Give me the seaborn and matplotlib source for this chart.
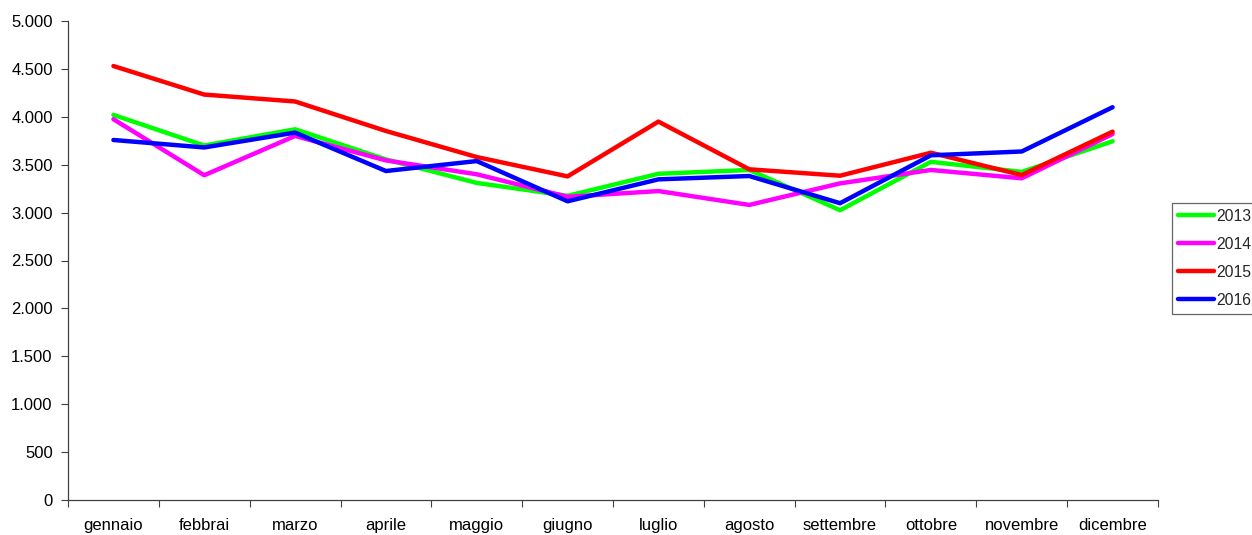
import matplotlib
matplotlib.use("Agg")
import matplotlib.pyplot as plt
import seaborn as sns
import pandas as pd
from matplotlib.ticker import FuncFormatter, FixedLocator

months = ["gennaio", "febbrai", "marzo", "aprile", "maggio", "giugno",
          "luglio", "agosto", "settembre", "ottobre", "novembre", "dicembre"]
v2013 = [4020, 3700, 3870, 3555, 3310, 3175, 3405, 3445, 3025, 3530, 3425, 3745]
v2014 = [3975, 3390, 3800, 3545, 3400, 3165, 3225, 3080, 3305, 3445, 3358, 3820]
v2015 = [4530, 4232, 4160, 3852, 3580, 3378, 3950, 3452, 3385, 3625, 3392, 3845]
v2016 = [3758, 3680, 3835, 3434, 3538, 3118, 3347, 3382, 3098, 3598, 3638, 4100]
years = ["2013", "2014", "2015", "2016"]
colors = ["#00FF00", "#FF00FF", "#FF0000", "#0000FF"]

rows = []
for y, vals in zip(years, [v2013, v2014, v2015, v2016]):
    for i, v in enumerate(vals):
        rows.append({"pos": i, "mese": months[i], "anno": y, "valore": v})
df = pd.DataFrame(rows)

sns.set_theme(style="white")
plt.rcParams["font.family"] = ["Liberation Sans", "DejaVu Sans"]

fig = plt.figure(figsize=(12.52, 5.35), dpi=100)
ax = fig.add_axes([68 / 1252, 1 - 500 / 535, (1158 - 68) / 1252, (500 - 21) / 535])

sns.lineplot(data=df, x="pos", y="valore", hue="anno", palette=colors,
             linewidth=3.2, ax=ax, legend=True)

ax.set_xlim(-0.5, 11.5)
ax.set_ylim(0, 5000)
ax.set_xlabel("")
ax.set_ylabel("")

ax.yaxis.set_major_locator(FixedLocator(list(range(0, 5001, 500))))
ax.yaxis.set_major_formatter(FuncFormatter(lambda v, p: f"{int(v):,}".replace(",", ".")))

ax.xaxis.set_major_locator(FixedLocator(list(range(12))))
ax.set_xticklabels(months)
ax.xaxis.set_minor_locator(FixedLocator([i - 0.5 for i in range(13)]))
ax.tick_params(axis="x", which="major", length=0, pad=13, labelsize=12, colors="black")
ax.tick_params(axis="x", which="minor", length=5, width=0.8, color="#404040", direction="out", bottom=True)
ax.tick_params(axis="y", which="major", length=5, width=0.8, color="#404040", direction="out",
               left=True, pad=6, labelsize=12, labelcolor="black")

for side in ["top", "right"]:
    ax.spines[side].set_visible(False)
for side in ["left", "bottom"]:
    ax.spines[side].set_color("#404040")
    ax.spines[side].set_linewidth(0.9)

handles, labels = ax.get_legend_handles_labels()
if ax.get_legend():
    ax.get_legend().remove()
leg = fig.legend(handles, labels, loc="upper left",
                 bbox_to_anchor=(1172 / 1252, 1 - 203 / 535),
                 frameon=True, fancybox=False, shadow=False,
                 fontsize=11.3, handlelength=2.3, handletextpad=0.12,
                 borderpad=0.38, labelspacing=0.82, borderaxespad=0)
leg.get_frame().set_edgecolor("#404040")
leg.get_frame().set_linewidth(0.9)
for line in leg.get_lines():
    line.set_linewidth(3.2)

fig.savefig("out.png", dpi=100, facecolor="white")
